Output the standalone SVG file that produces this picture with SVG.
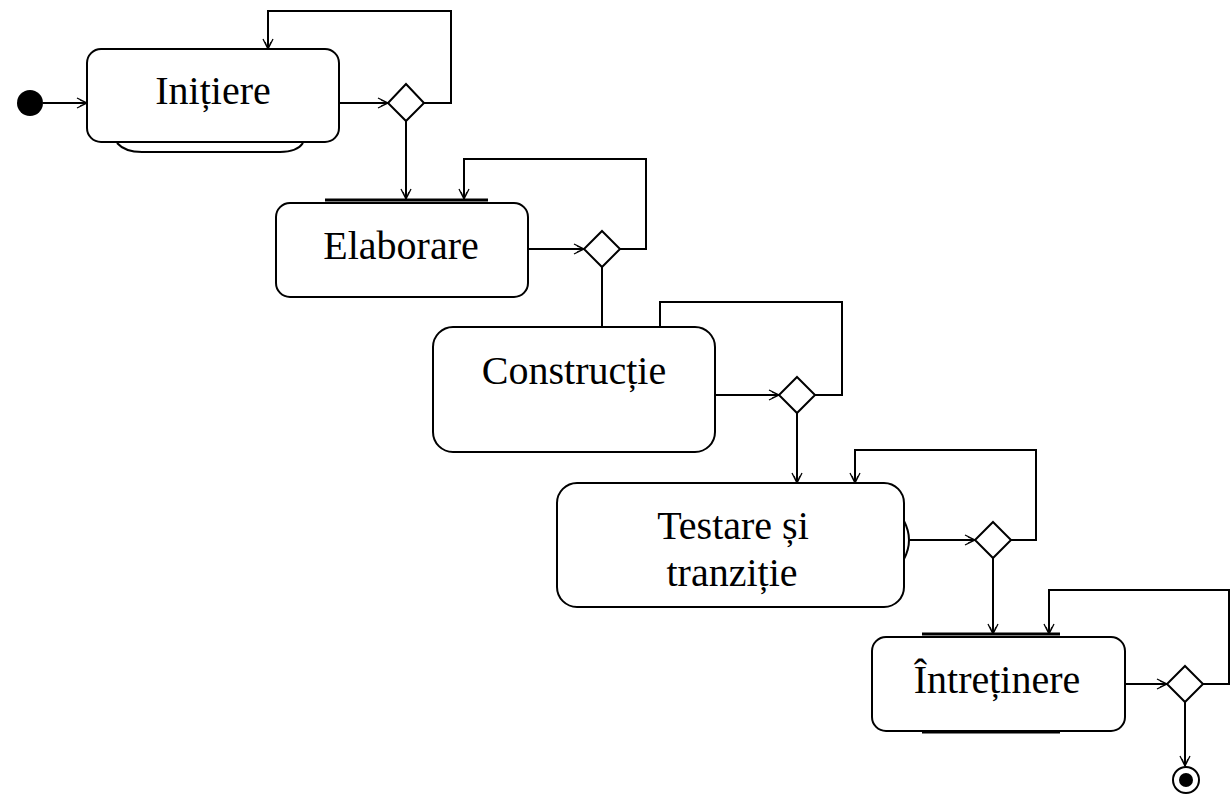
<svg xmlns="http://www.w3.org/2000/svg" width="1231" height="796" viewBox="0 0 1231 796">
<style>
.box{fill:#fff;stroke:#000;stroke-width:2}
.lbl{font-family:"Liberation Serif","Times New Roman",serif;font-size:40px;fill:#000;text-anchor:middle}
.c{fill:none;stroke:#000;stroke-width:2}
.dia{fill:#fff;stroke:#000;stroke-width:2}
.bar{fill:none;stroke:#000;stroke-width:3}
</style>
<defs>
<marker id="arr" viewBox="0 0 12 12" refX="11" refY="6" markerWidth="12" markerHeight="12" markerUnits="userSpaceOnUse" orient="auto">
<path d="M1,1 L11,6 L1,11 M4,3 L11,6 L4,9" fill="none" stroke="#000" stroke-width="1.3"/>
</marker>
</defs>
<rect width="1231" height="796" fill="#fff"/>
<g id="connectors">
<path class="c" d="M43,103 H87" marker-end="url(#arr)"/>
<path class="c" d="M339,103 H388" marker-end="url(#arr)"/>
<path class="c" d="M424,103 H451 V11 H268 V49" marker-end="url(#arr)"/>
<path class="c" d="M406,121 V199" marker-end="url(#arr)"/>
<path class="c" d="M528,249 H584" marker-end="url(#arr)"/>
<path class="c" d="M620,249 H646 V159 H464 V199" marker-end="url(#arr)"/>
<path class="c" d="M602,267 V327"/>
<path class="c" d="M715,395 H779" marker-end="url(#arr)"/>
<path class="c" d="M815,395 H842 V302 H660 V327"/>
<path class="c" d="M797,413 V483" marker-end="url(#arr)"/>
<path class="c" d="M910,540 H975" marker-end="url(#arr)"/>
<path class="c" d="M1011,540 H1036 V450 H855 V483" marker-end="url(#arr)"/>
<path class="c" d="M993,558 V634" marker-end="url(#arr)"/>
<path class="c" d="M1125,684 H1167" marker-end="url(#arr)"/>
<path class="c" d="M1203,684 H1229 V590 H1049 V634" marker-end="url(#arr)"/>
<path class="c" d="M1185,702 V766" marker-end="url(#arr)"/>
</g>
<g id="start">
<circle cx="30" cy="103" r="13" fill="#000"/>
</g>
<g id="initiere">
<path class="c" d="M117,143 Q125,152 142,152 H280 Q297,152 303,143"/>
<rect class="box" x="87" y="49" width="252" height="93" rx="14"/>
<text class="lbl" x="213" y="104">Inițiere</text>
</g>
<g id="d1"><path class="dia" d="M406,84 L424,103 L406,121 L388,103 Z"/></g>
<g id="elaborare">
<path class="bar" d="M325,200 H488"/>
<rect class="box" x="276" y="203" width="252" height="94" rx="14"/>
<text class="lbl" x="401" y="259">Elaborare</text>
</g>
<g id="d2"><path class="dia" d="M602,231 L620,249 L602,267 L584,249 Z"/></g>
<g id="constructie">
<rect class="box" x="433" y="327" width="282" height="125" rx="20"/>
<text class="lbl" x="574" y="384">Construcție</text>
</g>
<g id="d3"><path class="dia" d="M797,377 L815,395 L797,413 L779,395 Z"/></g>
<g id="testare">
<path class="c" d="M904,521 Q914,540 904,559"/>
<rect class="box" x="557" y="483" width="347" height="124" rx="20"/>
<text class="lbl" x="733" y="539">Testare și</text>
<text class="lbl" x="732" y="586">tranziție</text>
</g>
<g id="d4"><path class="dia" d="M993,522 L1011,540 L993,558 L975,540 Z"/></g>
<g id="intretinere">
<path class="bar" d="M922,634 H1060"/>
<path class="bar" d="M922,732 H1060"/>
<rect class="box" x="872" y="637" width="253" height="94" rx="14"/>
<text class="lbl" x="997" y="693">Întreținere</text>
</g>
<g id="d5"><path class="dia" d="M1185,666 L1203,684 L1185,702 L1167,684 Z"/></g>
<g id="end">
<circle cx="1186" cy="780" r="13" fill="#fff" stroke="#000" stroke-width="2"/>
<circle cx="1186" cy="780" r="7" fill="#000"/>
</g>
</svg>
